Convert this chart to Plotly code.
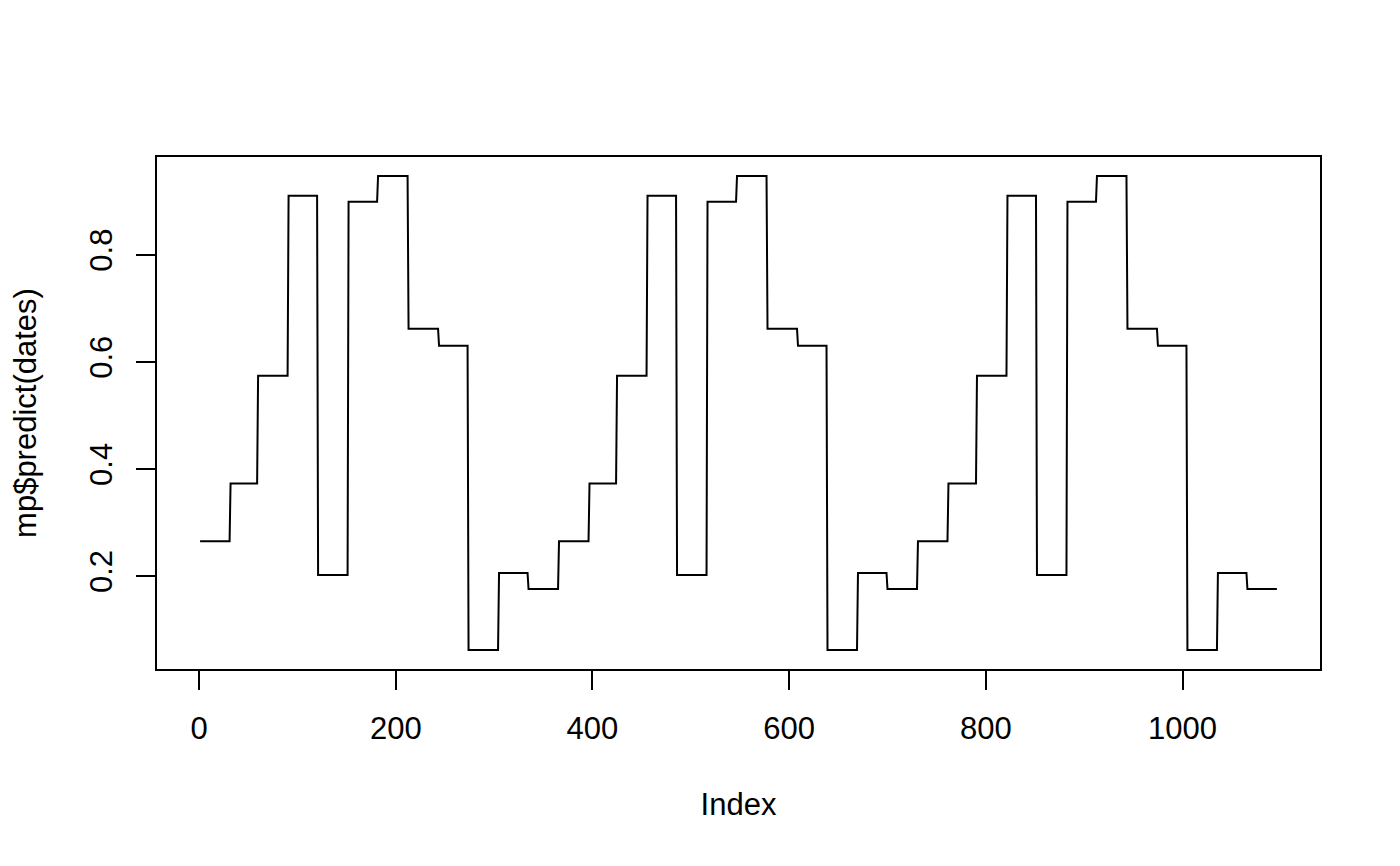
import numpy as np
import plotly.graph_objects as go

# monthly predicted values (Jan..Dec), same pattern every year
month_values = [0.265, 0.373, 0.574, 0.910, 0.202, 0.899,
                0.947, 0.662, 0.630, 0.062, 0.206, 0.176]

# days per month for the three years plotted (last one is a leap year)
days_year1 = [31, 28, 31, 30, 31, 30, 31, 31, 30, 31, 30, 31]
days_year2 = [31, 28, 31, 30, 31, 30, 31, 31, 30, 31, 30, 31]
days_year3 = [31, 29, 31, 30, 31, 30, 31, 31, 30, 31, 30, 31]

x_ticks = [0, 200, 400, 600, 800, 1000]
y_ticks = [0.2, 0.4, 0.6, 0.8]

# one value per day
pred = np.concatenate([np.repeat(month_values, d)
                       for d in (days_year1, days_year2, days_year3)])
index = np.arange(1, len(pred) + 1)

# R style 4% padding on both axes
xpad = 0.04 * (index.max() - index.min())
ypad = 0.04 * (pred.max() - pred.min())

font = dict(family='Liberation Sans, Arial, Helvetica, sans-serif', size=31, color='black')

# the page body adds ~8px around the figure, so margins are 8px smaller
layout = go.Layout(
    width=1400,
    height=866,
    autosize=False,
    paper_bgcolor='white',
    plot_bgcolor='white',
    showlegend=False,
    font=font,
    margin=dict(l=149, r=88, t=149, b=205, pad=0),
    xaxis=dict(
        range=[index.min() - xpad, index.max() + xpad],
        tickvals=x_ticks,
        ticks='outside',
        ticklen=19,
        tickwidth=2,
        tickcolor='black',
        showline=True,
        mirror=True,
        linewidth=2,
        linecolor='black',
        showgrid=False,
        zeroline=False,
        ticklabelstandoff=12,
        title=dict(text='Index', standoff=48, font=font),
    ),
    yaxis=dict(
        range=[pred.min() - ypad, pred.max() + ypad],
        tickvals=y_ticks,
        ticktext=[str(v) for v in y_ticks],
        tickangle=-90,
        ticks='outside',
        ticklen=19,
        tickwidth=2,
        tickcolor='black',
        showline=True,
        mirror=True,
        linewidth=2,
        linecolor='black',
        showgrid=False,
        zeroline=False,
        ticklabelstandoff=12,
        title=dict(text='mp$predict(dates)', standoff=38, font=font),
    ),
)

fig = go.Figure(
    data=go.Scatter(x=index, y=pred, mode='lines',
                    line=dict(color='black', width=2), hoverinfo='skip'),
    layout=layout,
)

fig.write_html('out.html')
